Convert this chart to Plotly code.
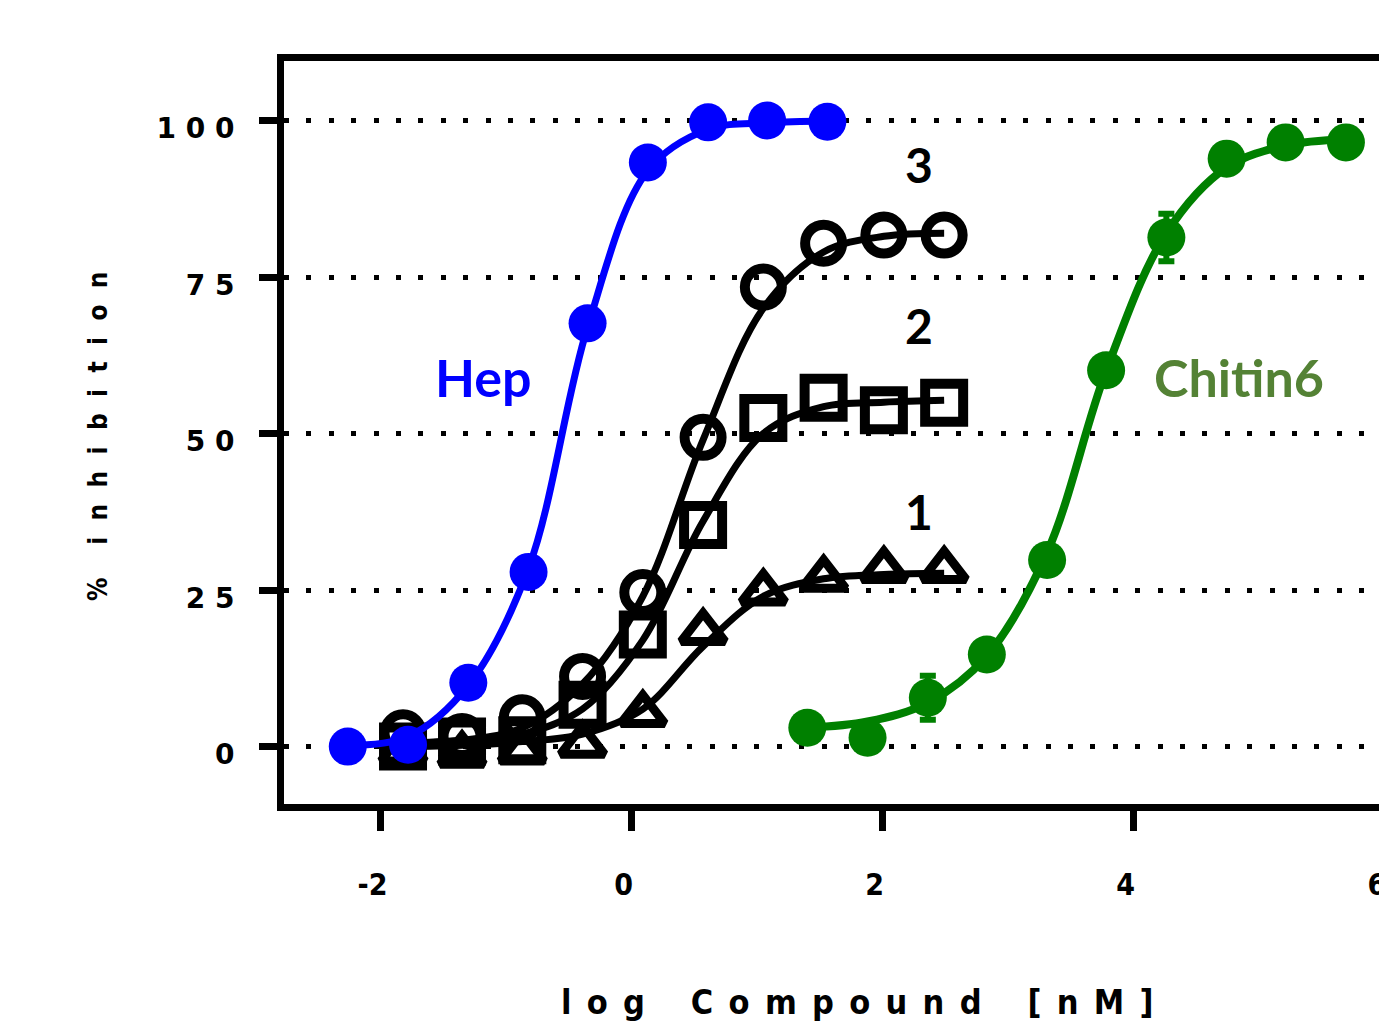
import plotly.graph_objects as go

# ---------------- data ----------------
dose_hep = [-2.26, -1.78, -1.30, -0.82, -0.35, 0.13, 0.61, 1.08, 1.56]
inh_hep = [0.0, 0.3, 10.2, 27.9, 67.6, 93.3, 99.7, 100.0, 99.8]
fit_hep = [0.2, 1.6, 9.8, 28.5, 67.0, 92.0, 98.6, 99.6, 99.9]

dose_cpd = [-1.82, -1.35, -0.87, -0.39, 0.09, 0.57, 1.05, 1.53, 2.01, 2.49]
inh_cpd3 = [2.2, 1.6, 4.6, 11.2, 24.6, 49.4, 73.4, 80.4, 81.7, 81.7]
fit_cpd3 = [0.5, 1.0, 3.0, 10.0, 24.0, 49.0, 70.0, 79.0, 81.5, 82.0]
inh_cpd2 = [0.0, 0.8, 1.0, 6.7, 17.9, 35.4, 52.5, 55.7, 53.7, 54.9]
fit_cpd2 = [0.5, 1.0, 2.0, 6.0, 17.0, 36.0, 50.0, 54.3, 55.0, 55.3]
inh_cpd1 = [-0.8, -1.3, -0.8, 0.3, 5.2, 18.3, 24.6, 26.8, 28.2, 28.2]
fit_cpd1 = [0.0, 0.2, 0.8, 2.0, 6.0, 16.0, 24.0, 26.8, 27.5, 27.7]

dose_chitin = [1.40, 1.88, 2.36, 2.83, 3.31, 3.78, 4.26, 4.74, 5.21, 5.69]
inh_chitin = [3.0, 1.4, 7.8, 14.7, 29.8, 60.1, 81.3, 93.9, 96.5, 96.5]
err_chitin = [0, 0, 3.5, 0, 0, 0, 3.8, 0, 0, 0]
fit_chitin = [3.0, 4.0, 7.0, 14.5, 31.0, 60.0, 82.0, 92.5, 96.0, 97.0]

x_ticks = [-2, 0, 2, 4, 6]
x_ticktext = ["-2", "0", "2", "4", "6"]
y_ticks = [0, 25, 50, 75, 100]
y_ticktext = ["0", "2 5", "5 0", "7 5", "1 0 0"]

BLUE = "#0000FF"
GREEN = "#008000"
BLACK = "#000000"

fig = go.Figure()


def add_curve(x, y, color, width):
    fig.add_trace(go.Scatter(
        x=x, y=y, mode="lines",
        line=dict(color=color, width=width, shape="spline", smoothing=1.0),
        hoverinfo="skip", showlegend=False))


def add_points(x, y, color, symbol, size, lw, err=None):
    kw = {}
    if err is not None:
        kw["error_y"] = dict(type="data", array=err, visible=True,
                             color=color, thickness=6, width=8)
    fig.add_trace(go.Scatter(
        x=x, y=y, mode="markers",
        marker=dict(symbol=symbol, size=size, color=color,
                    line=dict(width=lw, color=color)),
        showlegend=False, **kw))


# black compounds
add_curve(dose_cpd, fit_cpd1, BLACK, 7)
add_points(dose_cpd, inh_cpd1, BLACK, "triangle-up-open", 38, 9)
add_curve(dose_cpd, fit_cpd2, BLACK, 7)
add_points(dose_cpd, inh_cpd2, BLACK, "square-open", 38, 10)
add_curve(dose_cpd, fit_cpd3, BLACK, 7)
add_points(dose_cpd, inh_cpd3, BLACK, "circle-open", 37, 10)

# Hep
add_curve(dose_hep, fit_hep, BLUE, 7)
add_points(dose_hep, inh_hep, BLUE, "circle", 38, 0)

# Chitin6
add_curve(dose_chitin, fit_chitin, GREEN, 8)
add_points(dose_chitin, inh_chitin, GREEN, "circle", 38, 0, err=err_chitin)

COND = "DejaVu Sans Condensed, Liberation Sans Narrow, Arial"

# the page body adds an 8px offset, so margins are 8px smaller than the target
fig.update_layout(
    width=1387, height=1024,
    margin=dict(l=275.5, r=0, t=52.5, b=227.5),
    plot_bgcolor="white", paper_bgcolor="white",
    showlegend=False,
    xaxis=dict(
        automargin=False,
        range=[-2.768, 6.081], tickvals=x_ticks, ticktext=x_ticktext,
        showgrid=False, zeroline=False,
        showline=True, linecolor=BLACK, linewidth=7, mirror=True,
        ticks="outside", ticklen=20, tickwidth=7, tickcolor=BLACK,
        ticklabelstandoff=28, ticklabelshift=-8,
        tickfont=dict(family=COND, size=30, color=BLACK, weight="bold"),
    ),
    yaxis=dict(
        automargin=False,
        range=[-9.17, 109.5], tickvals=y_ticks, ticktext=y_ticktext,
        showgrid=True, gridcolor=BLACK, gridwidth=5, griddash="5px,17.4px",
        zeroline=False,
        showline=True, linecolor=BLACK, linewidth=7, mirror=False,
        ticks="outside", ticklen=18, tickwidth=7, tickcolor=BLACK,
        ticklabelstandoff=19, ticklabelshift=8,
        tickfont=dict(family="DejaVu Sans", size=28, color=BLACK, weight="bold"),
    ),
)

# axis titles (positions in paper coords of the plot area)
sp = "\u2002\u2009"
ytitle = "%" + sp + sp + sp.join("inhibition")
fig.add_annotation(
    text=ytitle,
    xref="paper", yref="paper", x=-0.1674, y=0.494, xanchor="center", yanchor="middle",
    textangle=-90, showarrow=False,
    font=dict(family=COND, size=26, color=BLACK, weight="bold"))
fig.add_annotation(
    text="l o g   C o m p o u n d   [ n M ]".replace(" ", "\u2002"),
    xref="paper", yref="paper", x=0.516, y=-0.267, xanchor="center", yanchor="middle",
    showarrow=False,
    font=dict(family=COND, size=34, color=BLACK, weight="bold"))

# series labels
lab_font = "Lato, Open Sans, sans-serif"
fig.add_annotation(text="Hep", x=-1.18, y=59.0, showarrow=False,
                   font=dict(family=lab_font, size=52, color=BLUE, weight="bold"))
fig.add_annotation(text="Chitin6", x=4.84, y=59.0, showarrow=False,
                   font=dict(family=lab_font, size=52, color="#548235", weight="bold"))
fig.add_annotation(text="3", x=2.29, y=93.0, showarrow=False,
                   font=dict(family=lab_font, size=48, color=BLACK, weight="bold"))
fig.add_annotation(text="2", x=2.29, y=67.2, showarrow=False,
                   font=dict(family=lab_font, size=48, color=BLACK, weight="bold"))
fig.add_annotation(text="1", x=2.29, y=37.6, showarrow=False,
                   font=dict(family=lab_font, size=48, color=BLACK, weight="bold"))

fig.write_html("out.html")
